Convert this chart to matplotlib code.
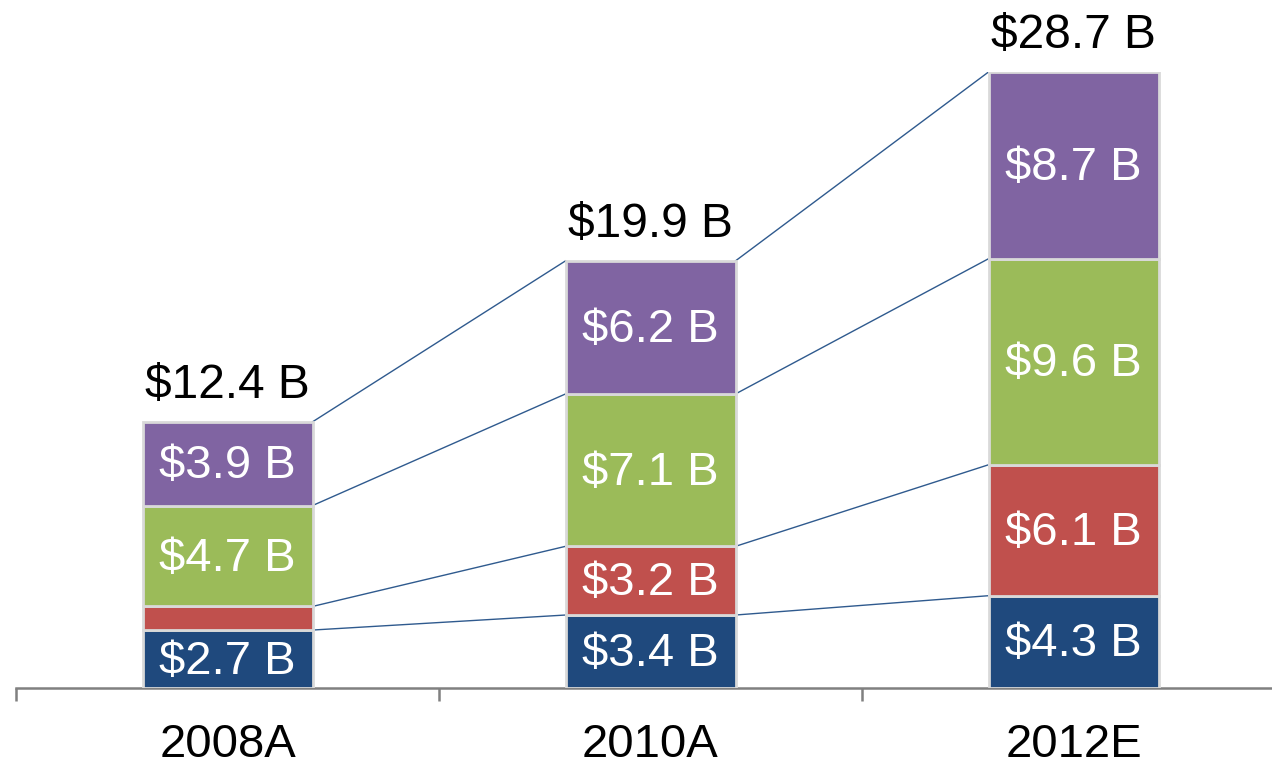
import numpy as np
import matplotlib.pyplot as plt

## data
years = ["2008A", "2010A", "2012E"]
blue = [2.7, 3.4, 4.3]
red = [1.1, 3.2, 6.1]
green = [4.7, 7.1, 9.6]
purple = [3.9, 6.2, 8.7]
totals = [12.4, 19.9, 28.7]
# labels shown inside each segment ("" = no label)
blue_lbl = ["$2.7 B", "$3.4 B", "$4.3 B"]
red_lbl = ["", "$3.2 B", "$6.1 B"]
green_lbl = ["$4.7 B", "$7.1 B", "$9.6 B"]
purple_lbl = ["$3.9 B", "$6.2 B", "$8.7 B"]

series = [blue, red, green, purple]
labels = [blue_lbl, red_lbl, green_lbl, purple_lbl]
colors = ["#1F497D", "#C0504D", "#9BBB59", "#8064A2"]

plt.rcParams['font.family'] = ['Liberation Sans', 'DejaVu Sans']

W, H = 1272, 765
fig = plt.figure(figsize=(W / 100, H / 100), dpi=100)
ax = fig.add_axes([16 / W, 77 / H, 1256 / W, (688 - 72) / H])

x = np.arange(len(years))
width = 170 / 423
bottom = np.zeros(len(years))
tops = []
for vals, lbls, c in zip(series, labels, colors):
    vals = np.array(vals)
    ax.bar(x, vals, width, bottom=bottom, color=c, edgecolor="#D9D9D9",
           linewidth=2, zorder=3)
    for i in range(len(x)):
        if lbls[i]:
            ax.text(x[i], bottom[i] + vals[i] / 2 - 0.12, lbls[i], color="white",
                    fontsize=34, ha="center", va="center", zorder=4)
    bottom = bottom + vals
    tops.append(bottom.copy())

## connector lines between segment tops
for t in tops:
    for i in range(len(x) - 1):
        ax.plot([x[i] + width / 2, x[i + 1] - width / 2], [t[i], t[i + 1]],
                color="#2F5A8E", linewidth=1, zorder=2)

## totals above bars
for i in range(len(x)):
    ax.annotate(f"${totals[i]} B", (x[i], totals[i]), xytext=(0, 10),
                textcoords="offset points", ha="center", va="bottom",
                fontsize=34.5, color="black", annotation_clip=False)

ax.set_xlim(-0.5, -0.5 + 1256 / 423)
ax.set_ylim(0, 28.7)
for s in ["top", "right", "left"]:
    ax.spines[s].set_visible(False)
ax.spines["bottom"].set_color("#808080")
ax.spines["bottom"].set_linewidth(1.8)
ax.set_yticks([])
ax.set_xticks(x)
ax.set_xticklabels(years, fontsize=34)
ax.tick_params(axis="x", which="major", length=0, pad=25)
ax.set_xticks([-0.5, 0.5, 1.5], minor=True)
ax.tick_params(axis="x", which="minor", length=9.5, width=1.8, color="#808080")

fig.savefig("out.png", dpi=100)
